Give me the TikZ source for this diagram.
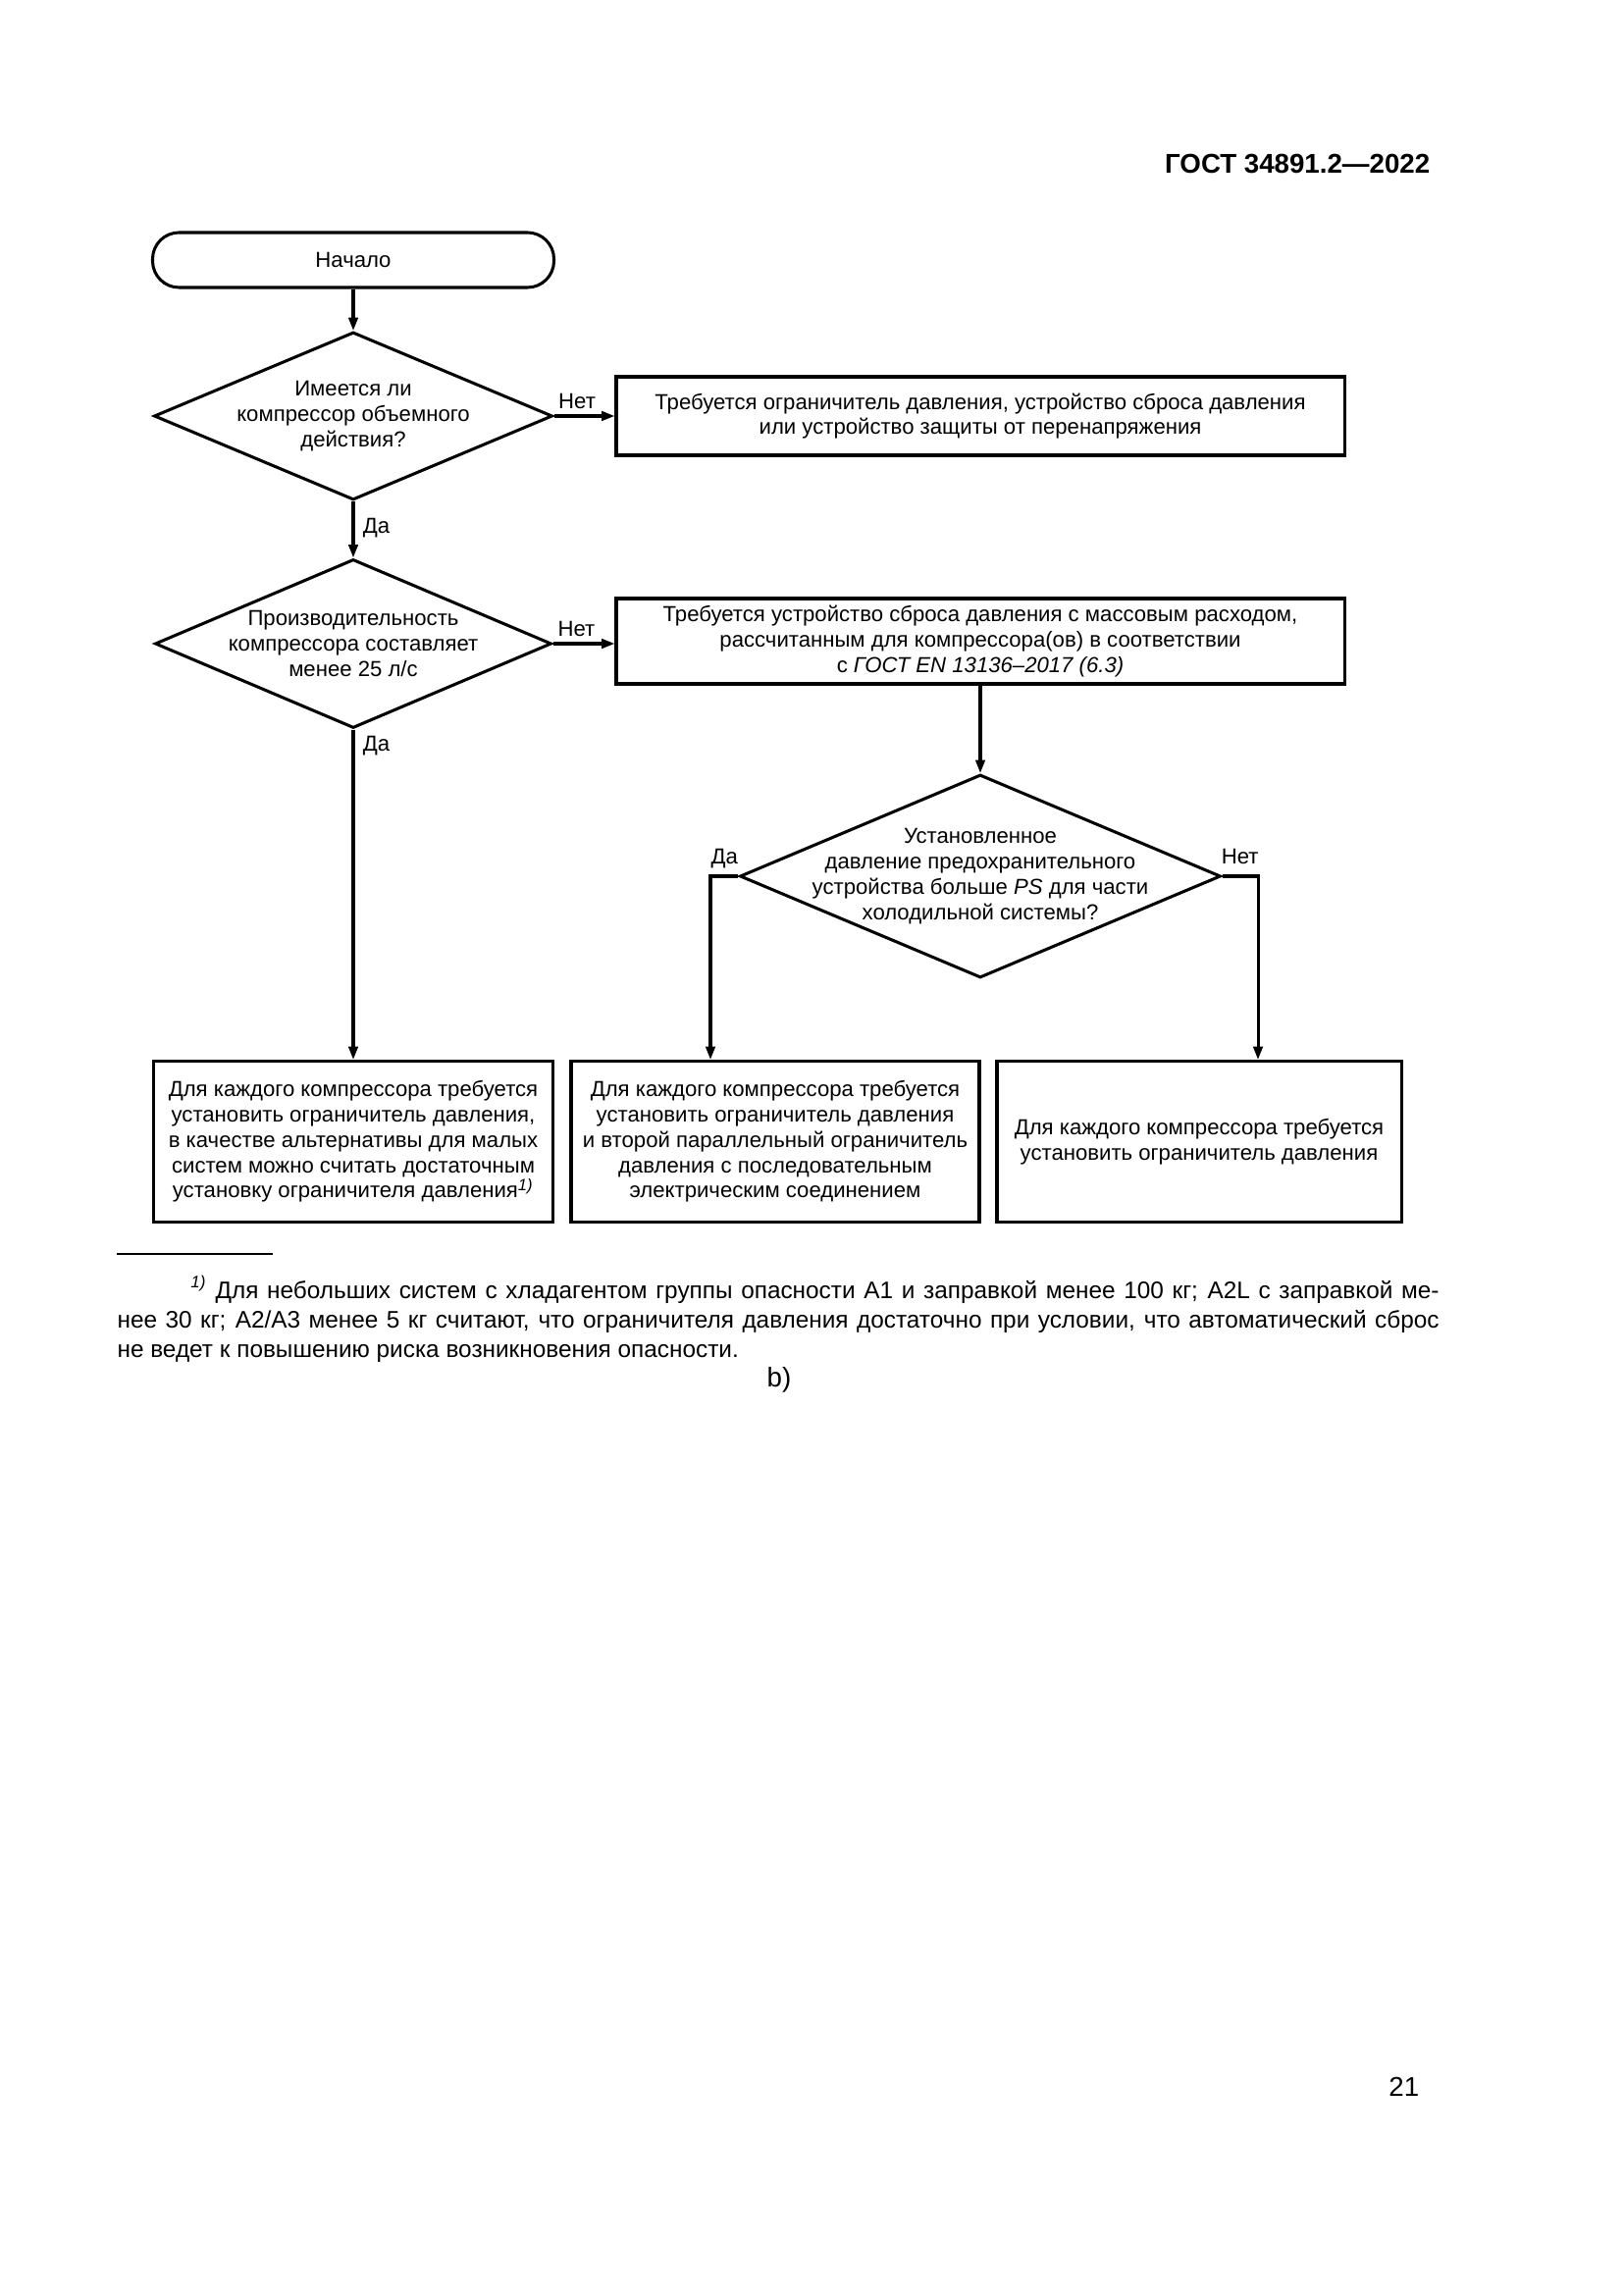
\documentclass[tikz,border=0pt]{standalone}
\usepackage{fontspec}
\setmainfont{Liberation Sans}
\usetikzlibrary{shapes.geometric, arrows.meta, positioning}

\begin{document}
\begin{tikzpicture}[x=0.12696mm, y=-0.12696mm,
  every node/.style={font=\fontsize{8}{9.3}\selectfont},
  box/.style={draw, line width=1.1pt, align=center, inner sep=0pt},
  decision/.style={diamond, draw, line width=1.1pt, inner sep=0pt, aspect=2.37},
  answer/.style={inner sep=3pt, text height=1.6ex, text depth=0.2ex},
  flow/.style={line width=1.1pt, -{Triangle[length=1.7mm, width=1.2mm]}}]
  \def\unit{0.12696mm}
  \useasboundingbox (0,0) rectangle (1654,2339);

  % page head
  \node[anchor=base east, font=\fontsize{10}{12}\selectfont\bfseries] (docid) at (1467,177) {ГОСТ 34891.2—2022};

  % left column
  \node[box, rounded corners=27*\unit, minimum width=409*\unit, minimum height=56*\unit] (start) at (360,265) {Начало};
  \node[decision, minimum width=406*\unit, minimum height=171*\unit,
    label={[align=center]center:{Имеется ли\\компрессор объемного\\действия?}}] (posdisp) at (360,424) {};
  \node[decision, minimum width=404*\unit, minimum height=172*\unit,
    label={[align=center]center:{Производительность\\компрессора составляет\\менее 25 л/с}}] (capacity) at (360,656) {};

  % right column
  \node[box, minimum width=742*\unit, minimum height=80*\unit] (limitany) at (999,424)
    {Требуется ограничитель давления, устройство сброса давления\\или устройство защиты от перенапряжения};
  \node[box, minimum width=742*\unit, minimum height=87*\unit] (reliefdev) at (999,653.5)
    {Требуется устройство сброса давления с массовым расходом,\\рассчитанным для компрессора(ов) в соответствии\\с \textit{ГОСТ EN 13136–2017 (6.3)}};
  \node[decision, minimum width=490*\unit, minimum height=207*\unit,
    label={[align=center]center:{Установленное\\давление предохранительного\\устройства больше \textit{PS} для части\\холодильной системы?}}] (setpress) at (999,893) {};

  % results
  \node[box, minimum width=407*\unit, minimum height=164*\unit] (limitsmall) at (360,1163.5)
    {Для каждого компрессора требуется\\установить ограничитель давления,\\в качестве альтернативы для малых\\систем можно считать достаточным\\установку ограничителя давления\textsuperscript{\textit{1)}}};
  \node[box, minimum width=416*\unit, minimum height=164*\unit] (limittwo) at (790,1163.5)
    {Для каждого компрессора требуется\\установить ограничитель давления\\и второй параллельный ограничитель\\давления с последовательным\\электрическим соединением};
  \node[box, minimum width=412*\unit, minimum height=164*\unit] (limitone) at (1222,1163.5)
    {Для каждого компрессора требуется\\установить ограничитель давления};

  % connectors
  \coordinate (yesturn) at (724,893);
  \coordinate (noturn) at (1282,893);
  \draw[flow] (start.south) -- (posdisp.north);
  \draw[flow] (posdisp.east) -- node[answer, above, pos=0.38, yshift=-2pt] {Нет} (limitany.west);
  \draw[flow] (posdisp.south) -- node[answer, pos=0.39, right] {Да} (capacity.north);
  \draw[flow] (capacity.east) -- node[answer, above, pos=0.38, yshift=-2pt] {Нет} (capacity.east -| reliefdev.west);
  \draw[flow] (capacity.south) -- node[answer, pos=0.035, right] {Да} (limitsmall.north);
  \draw[flow] (reliefdev.south) -- (setpress.north);
  \draw[flow] (setpress.west) -- node[answer, above] {Да} (yesturn) -- (yesturn |- limittwo.north);
  \draw[flow] (setpress.east) -- node[answer, above] {Нет} (noturn) -- (noturn |- limitone.north);

  % footnote
  \draw[line width=0.5pt] (119,1278) -- (278,1278);
  \node[anchor=north west, text width=1347*\unit, align=justify, inner sep=0pt,
    font=\fontsize{8.8}{10.8}\selectfont] (fnote) at (119,1300)
    {\hspace*{9.5mm}\textsuperscript{\textit{1)}} Для небольших систем с хладагентом группы опасности А1 и заправкой менее 100 кг; А2L с заправкой ме-\linebreak нее 30 кг; А2/А3 менее 5 кг считают, что ограничителя давления достаточно при условии, что автоматический сброс\linebreak не ведет к повышению риска возникновения опасности.};
  \node[anchor=base, font=\fontsize{10}{12}\selectfont] (subfig) at (794,1413) {b)};
  \node[anchor=base east, font=\fontsize{10}{12}\selectfont] (pagenum) at (1456,2136) {21};
\end{tikzpicture}
\end{document}
